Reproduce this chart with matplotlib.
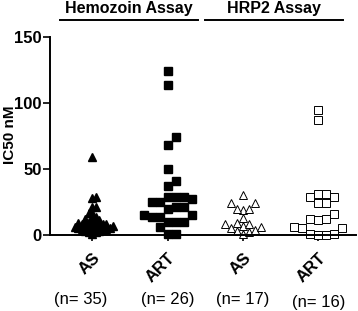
import numpy as np
import matplotlib.pyplot as plt
from matplotlib.lines import Line2D
from matplotlib.transforms import blended_transform_factory

plt.rcParams['font.family'] = ['Liberation Sans', 'DejaVu Sans']

# IC50 values (nM)
groups = ['AS', 'ART', 'AS', 'ART']
n_labels = ['(n= 35)', '(n= 26)', '(n= 17)', '(n= 16)']
assays = ['Hemozoin Assay', 'HRP2 Assay']

hz_as = [59, 29, 28, 21, 21, 17, 17,
         14, 13, 12, 11, 10, 10, 9, 9, 8, 8, 8, 7, 7, 7, 6, 6, 6,
         5, 5, 5, 4, 4, 4, 3, 3, 2, 2, 1]
hz_art = [124, 114, 74, 68, 50, 41, 37, 29, 29, 29, 27, 25, 25,
          21, 21, 20, 15, 15, 14, 14, 10, 10, 10, 6, 1, 1]
hrp_as = [30, 24, 24, 20, 20, 19, 13,
          9, 8, 8, 7, 6, 5, 4, 3, 2, 1]
hrp_art = [95, 87, 31, 31, 29, 29, 24, 24, 16, 12, 12, 11,
           6, 5, 5, 1, 1, 0, 0]

series = [hz_as, hz_art, hrp_as, hrp_art]
markers = ['^', 's', '^', 's']
filled = [True, True, False, False]
# horizontal / vertical clearance (px) used by the swarm
gaps = [(3.5, 4), (8, 10), (6, 7), (8, 9)]

fig = plt.figure(figsize=(3.58, 3.11), dpi=100)
ax = fig.add_axes([50 / 358, 76 / 311, 306 / 358, 198 / 311])
ax.set_xlim(0.44, 4.5)
ax.set_ylim(0, 150)


def swarm(xpos, vals, gx, gy):
    # rough GraphPad-style scatter: spread points sideways when close in y
    tr = ax.transData
    inv = tr.inverted()
    x0 = tr.transform((xpos, 0))[0]
    placed = []
    xs = []
    steps = [0]
    for i in range(1, 60):
        steps += [i * gx / 2, -i * gx / 2]
    for v in vals:
        y = tr.transform((xpos, v))[1]
        for off in steps:
            if all(abs(off - px) >= gx or abs(y - py) >= gy for px, py in placed):
                break
        placed.append((off, y))
        xs.append(inv.transform((x0 + off, y))[0])
    return xs


for i, vals in enumerate(series):
    vals = sorted(vals)
    xs = swarm(i + 1, vals, *gaps[i])
    if filled[i]:
        ax.plot(xs, vals, markers[i], color='black', ms=5.5, clip_on=False)
    else:
        ax.plot(xs, vals, markers[i], mfc='white', mec='black', mew=0.7,
                ms=5.5, clip_on=False)

ax.spines['top'].set_visible(False)
ax.spines['right'].set_visible(False)
ax.spines['left'].set_linewidth(1.4)
ax.spines['bottom'].set_linewidth(1.4)
ax.set_yticks([0, 50, 100, 150])
ax.set_xticks([1, 2, 3, 4])
ax.set_xticklabels(groups, rotation=45, ha='right', rotation_mode='anchor',
                   fontweight='bold', fontsize=12)
ax.tick_params(axis='y', length=5, width=1.2, labelsize=12, pad=1)
ax.tick_params(axis='x', length=4, width=1.2, pad=7)
for t in ax.get_yticklabels():
    t.set_fontweight('bold')
fig.text(10 / 358, 1 - 135 / 311, 'IC50 nM', rotation=90, ha='center',
         va='center', fontsize=11, fontweight='bold')

trans = blended_transform_factory(ax.transData, fig.transFigure)
for i, lab in enumerate(n_labels):
    dx = -0.15 if i == 0 else 0
    yy = 0.026 if i == 3 else 0.037
    ax.text(i + 1 + dx, yy, lab, transform=trans, ha='center', va='center',
            fontsize=12)

for (x1, x2), lab in zip([(60, 198), (205, 343)], assays):
    fig.add_artist(Line2D([x1 / 358, x2 / 358], [1 - 20 / 311, 1 - 20 / 311],
                          color='black', lw=1.4, transform=fig.transFigure))
    fig.text((x1 + x2) / 2 / 358, 1 - 8 / 311, lab, ha='center', va='center',
             fontsize=11.5, fontweight='bold')

fig.savefig('out.png', dpi=100)
